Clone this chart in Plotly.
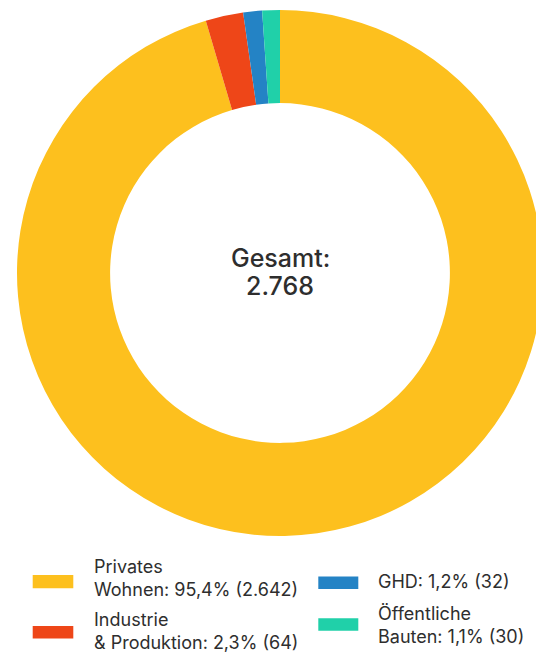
import plotly.graph_objects as go

# ---- data ----
labels = ["Privates Wohnen", "Industrie & Produktion", "GHD", "Öffentliche Bauten"]
values = [2642, 64, 32, 30]
colors = ["#FDC01E", "#EE4618", "#2483C5", "#20D0A9"]
total_label = "Gesamt:"

W, H = 544, 653
FONT = "Inter"
TXT = "#2e2e2e"


def px(x):
    return x / W


def py(y):
    return 1 - y / H


def de_num(v):
    return f"{v:,}".replace(",", ".")


total = sum(values)

fig = go.Figure()

# donut: center (280, 273), outer radius 263
cx, cy, r = 280, 273, 263
fig.add_trace(go.Pie(
    labels=labels, values=values,
    marker=dict(colors=colors, line=dict(width=0)),
    hole=0.646, sort=False, direction="clockwise", rotation=0,
    textinfo="none", hoverinfo="skip", showlegend=False,
    domain=dict(x=[px(cx - r), px(cx + r)], y=[py(cy + r), py(cy - r)]),
))

ann = []
ann.append(dict(text=total_label, x=px(cx), y=py(257.5), xanchor="center", yanchor="middle",
                font=dict(family=FONT, size=25, color=TXT, weight=500)))
ann.append(dict(text=de_num(total), x=px(cx), y=py(286), xanchor="center", yanchor="middle",
                font=dict(family=FONT, size=25, color=TXT, weight=500)))

# custom legend (2 columns)
rects = [(32.7, 575, 73.3, 588.3), (32.7, 626, 73.3, 638.5),
         (318.3, 576.5, 358.3, 589), (318.3, 618.3, 358.3, 630.7)]
text_x = [91.7, 91.7, 376, 376]
text_y = [578, 630.5, 581.7, 624]

shapes = []
for i, lab in enumerate(labels):
    pct = f"{round(values[i] / total * 100, 1):.1f}".replace(".", ",")
    parts = lab.split(" ", 1)
    tail = f": {pct}% ({de_num(values[i])})"
    if len(parts) == 2:
        lines = [parts[0], parts[1] + tail]
    else:
        lines = [parts[0] + tail]
    x0, y0, x1, y1 = rects[i]
    shapes.append(dict(type="rect", xref="paper", yref="paper",
                       x0=px(x0), x1=px(x1), y0=py(y1), y1=py(y0),
                       fillcolor=colors[i], line=dict(width=0)))
    ann.append(dict(text="<br>".join(lines), x=px(text_x[i]), y=py(text_y[i]),
                    xanchor="left", yanchor="middle", align="left",
                    font=dict(family=FONT, size=18, color=TXT)))

for a in ann:
    a.update(xref="paper", yref="paper", showarrow=False)

fig.update_layout(
    width=W, height=H, autosize=False,
    margin=dict(l=0, r=0, t=0, b=0),
    paper_bgcolor="white", plot_bgcolor="white",
    annotations=ann, shapes=shapes,
)

fig.write_html("out.html", include_plotlyjs=True,
               post_script="document.body.style.overflow='hidden';document.documentElement.style.overflow='hidden';document.body.style.margin='0';")
